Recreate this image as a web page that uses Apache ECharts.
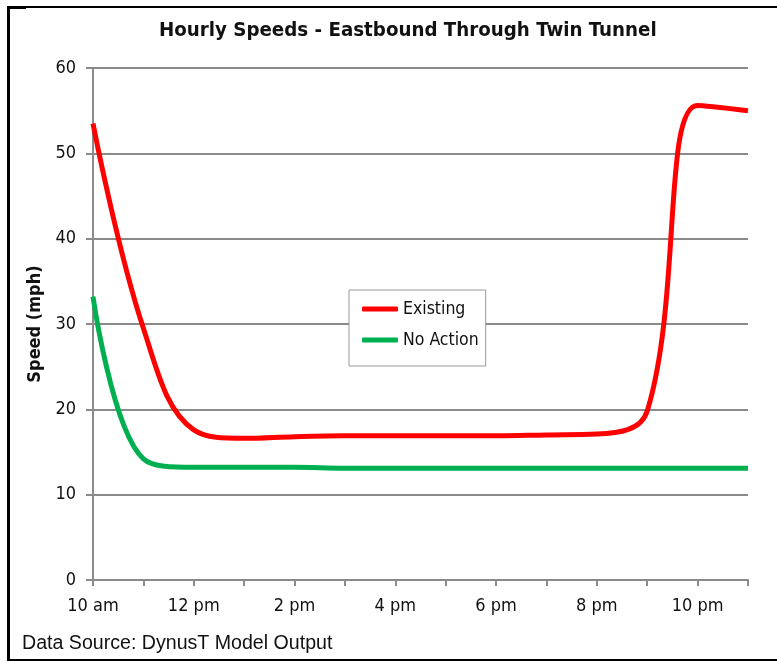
<!DOCTYPE html>
<html>
<head>
<meta charset="utf-8">
<script src="https://cdn.jsdelivr.net/npm/echarts@6/dist/echarts.min.js"></script>
<style>
  html, body { margin: 0; padding: 0; background: #fff; }
  #main { width: 777px; height: 661px; }
</style>
</head>
<body>
<div id="main"></div>
<script>
var hours = ['10 am', '11 am', '12 pm', '1 pm', '2 pm', '3 pm', '4 pm',
             '5 pm', '6 pm', '7 pm', '8 pm', '9 pm', '10 pm', '11 pm'];
var existing = [53.5, 29.5, 17.6, 16.6, 16.8, 16.9, 16.9, 16.9, 16.9, 17.0, 17.1, 19.8, 55.6, 55.0];
var noAction = [33.2, 14.2, 13.2, 13.2, 13.2, 13.1, 13.1, 13.1, 13.1, 13.1, 13.1, 13.1, 13.1, 13.1];
var speedTicks = [0, 10, 20, 30, 40, 50, 60];

var font = "'DejaVu Sans Condensed', 'Liberation Sans Narrow', sans-serif";
var gray = '#8a8a8a';

var myChart = echarts.init(document.getElementById('main'));

var option = {
  animation: false,
  textStyle: { fontFamily: font },
  title: {
    text: 'Hourly Speeds - Eastbound Through Twin Tunnel',
    left: 154,
    top: 16,
    textStyle: { fontSize: 20.3, fontWeight: 'bold', color: '#111', fontFamily: font }
  },
  legend: {
    orient: 'vertical',
    left: 349,
    top: 290,
    backgroundColor: '#fff',
    borderColor: '#999',
    borderWidth: 1,
    padding: [10, 7, 17, 13],
    itemGap: 13,
    itemWidth: 36,
    itemHeight: 5,
    icon: 'roundRect',
    textStyle: { fontSize: 17.5, color: '#111', fontFamily: font },
    data: ['Existing', 'No Action']
  },
  grid: { left: 93, right: 29, top: 68, bottom: 81 },
  xAxis: {
    type: 'category',
    data: hours,
    boundaryGap: false,
    axisLine: { lineStyle: { color: gray, width: 2 } },
    axisTick: { show: true, interval: 0, length: 6, lineStyle: { color: gray, width: 2 } },
    axisLabel: { interval: 1, margin: 17, fontSize: 18, color: '#111' },
    splitLine: { show: false }
  },
  yAxis: {
    type: 'value',
    min: speedTicks[0],
    max: speedTicks[speedTicks.length - 1],
    interval: 10,
    name: 'Speed (mph)',
    nameLocation: 'middle',
    nameGap: 47,
    nameTextStyle: { fontSize: 18, fontWeight: 'bold', color: '#111' },
    axisLine: { show: true, lineStyle: { color: gray, width: 2 } },
    axisTick: { show: true, length: 7, lineStyle: { color: gray, width: 2 } },
    axisLabel: { margin: 17, fontSize: 18, color: '#111' },
    splitLine: { lineStyle: { color: gray, width: 2 } }
  },
  graphic: [
    { type: 'rect', left: 7, top: 6, shape: { width: 3, height: 655 }, style: { fill: '#000' } },
    { type: 'rect', left: 7, top: 6, shape: { width: 770, height: 2 }, style: { fill: '#000' } },
    { type: 'rect', left: 7, top: 6, shape: { width: 19, height: 3 }, style: { fill: '#000' } },
    { type: 'rect', left: 7, top: 659, shape: { width: 770, height: 2 }, style: { fill: '#000' } },
    {
      type: 'text', left: 22, top: 634,
      style: { text: 'Data Source: DynusT Model Output', fontSize: 19.6, fill: '#111', fontFamily: "'Liberation Sans', Arial, sans-serif" }
    }
  ],
  series: [
    {
      name: 'Existing',
      type: 'line',
      data: existing,
      smooth: 0.4,
      symbol: 'none',
      color: '#ff0000',
      lineStyle: { width: 5, color: '#ff0000' },
      z: 3
    },
    {
      name: 'No Action',
      type: 'line',
      data: noAction,
      smooth: 0.4,
      symbol: 'none',
      color: '#00b050',
      lineStyle: { width: 5, color: '#00b050' },
      z: 2
    }
  ]
};

myChart.setOption(option);
</script>
</body>
</html>
